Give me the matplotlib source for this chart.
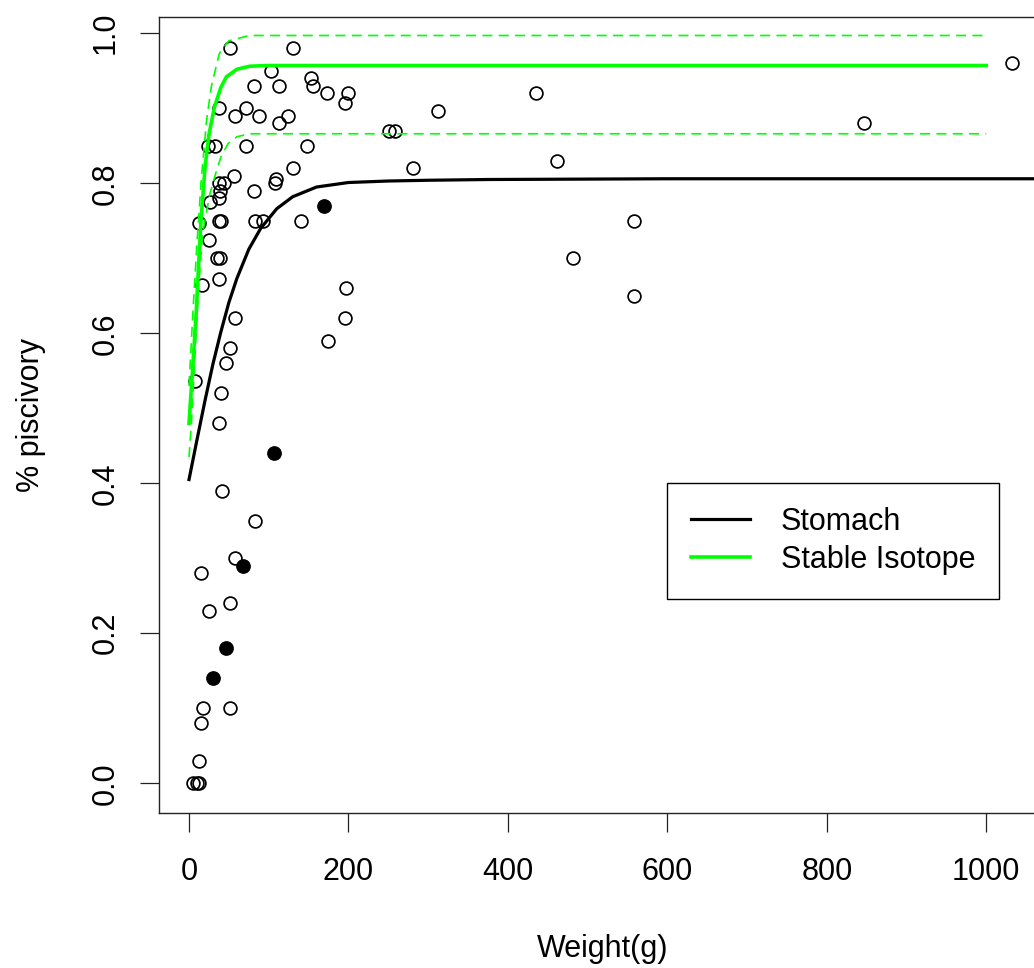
import matplotlib
matplotlib.use('Agg')
import matplotlib.pyplot as plt

plt.rcParams['font.family'] = ['Liberation Sans', 'DejaVu Sans']

# 个体体重 (g) 与食鱼比例
open_x = [51, 130, 103, 81, 113, 153, 156, 173, 199, 196,
          38, 72, 58, 88, 124, 113, 24, 33, 72, 148,
          131, 56, 37, 44, 109, 108, 81, 39, 37, 26,
          38, 40, 83, 93, 141, 12, 25, 35, 39, 16,
          38, 197, 58, 196,
          174, 52, 47, 8, 40, 37, 42, 83, 58, 15,
          52, 25, 17, 52, 15, 12, 5, 10, 13,
          435, 312, 251, 259, 281, 462, 558, 482, 558, 1032, 847]
open_y = [0.98, 0.98, 0.95, 0.93, 0.93, 0.94, 0.93, 0.92, 0.92, 0.907,
          0.90, 0.90, 0.89, 0.89, 0.89, 0.88, 0.85, 0.85, 0.85, 0.85,
          0.82, 0.81, 0.80, 0.80, 0.806, 0.80, 0.79, 0.79, 0.78, 0.775,
          0.75, 0.75, 0.75, 0.75, 0.75, 0.747, 0.725, 0.70, 0.70, 0.665,
          0.672, 0.66, 0.62, 0.62,
          0.59, 0.58, 0.56, 0.536, 0.52, 0.48, 0.39, 0.35, 0.30, 0.28,
          0.24, 0.23, 0.10, 0.10, 0.08, 0.03, 0.0, 0.0, 0.0,
          0.92, 0.896, 0.87, 0.87, 0.82, 0.83, 0.75, 0.70, 0.65, 0.96, 0.88]

filled_x = [169, 106, 68, 47, 30]
filled_y = [0.77, 0.44, 0.29, 0.18, 0.14]

# 胃含物法拟合曲线
stom_x = [0, 10, 20, 30, 40, 50, 60, 75, 90, 110, 130, 160, 200, 250, 300, 375, 600, 1075]
stom_y = [0.405, 0.458, 0.510, 0.559, 0.602, 0.641, 0.673, 0.712, 0.740, 0.766,
          0.782, 0.795, 0.801, 0.803, 0.804, 0.805, 0.806, 0.806]

# 稳定同位素法拟合曲线及上下界
iso_x = [0, 5, 9, 12, 15, 20, 25, 32, 40, 47, 60, 76, 100, 1000]
iso_y = [0.48, 0.56, 0.627, 0.69, 0.75, 0.82, 0.865, 0.902, 0.928, 0.942, 0.952, 0.956, 0.957, 0.957]

iso_hi_x = [0, 5, 10, 15, 22, 28, 38, 50, 76, 1000]
iso_hi_y = [0.53, 0.63, 0.72, 0.80, 0.884, 0.929, 0.973, 0.99, 0.997, 0.997]

iso_lo_x = [0, 3, 8, 12, 17, 26, 34, 40, 49, 60, 76, 1000]
iso_lo_y = [0.435, 0.48, 0.58, 0.66, 0.733, 0.785, 0.815, 0.835, 0.853, 0.862, 0.866, 0.866]

fig = plt.figure(figsize=(10.34, 9.68), dpi=100)
ax = fig.add_axes([0.1535, 0.1598, 0.8581, 0.8229])

ax.plot(open_x, open_y, 'o', ms=9.2, mfc='none', mec='black', mew=1.25, zorder=2)
ax.plot(filled_x, filled_y, 'o', ms=9.6, mfc='black', mec='black', mew=1.0, zorder=2)

ax.plot(stom_x, stom_y, color='black', lw=2.3, label='Stomach', zorder=3)
ax.plot(iso_x, iso_y, color='#00ff00', lw=2.6, label='Stable Isotope', zorder=3)
ax.plot(iso_hi_x, iso_hi_y, color='#00ff00', lw=1.2, dashes=(6, 3.8), zorder=3)
ax.plot(iso_lo_x, iso_lo_y, color='#00ff00', lw=1.2, dashes=(6, 3.8), zorder=3)

ax.set_xlim(-38, 1075)
ax.set_ylim(-0.04, 1.022)
ax.set_xticks([0, 200, 400, 600, 800, 1000])
ax.set_yticks([0.0, 0.2, 0.4, 0.6, 0.8, 1.0])
ax.set_yticklabels(['0.0', '0.2', '0.4', '0.6', '0.8', '1.0'])
ax.tick_params(axis='both', length=13.4, width=0.9, labelsize=22, color='#222222')
ax.tick_params(axis='x', pad=18)
ax.tick_params(axis='y', pad=14)
plt.setp(ax.get_yticklabels(), rotation=90, va='center')
for sp in ax.spines.values():
    sp.set_linewidth(1.0)
    sp.set_color('#222222')

ax.set_xlabel('Weight(g)', fontsize=22, labelpad=34)
ax.set_ylabel('% piscivory', fontsize=22, labelpad=32)

leg = ax.legend(loc='upper left', bbox_to_anchor=(666.7 / 1034, 1 - 482.7 / 968),
                bbox_transform=fig.transFigure, fontsize=22, frameon=True, fancybox=False,
                framealpha=1, edgecolor='black', borderaxespad=0, borderpad=0.78,
                handlelength=1.95, handletextpad=1.0, labelspacing=0.28)
leg.get_frame().set_linewidth(1.0)

fig.savefig('out.png', dpi=100)
